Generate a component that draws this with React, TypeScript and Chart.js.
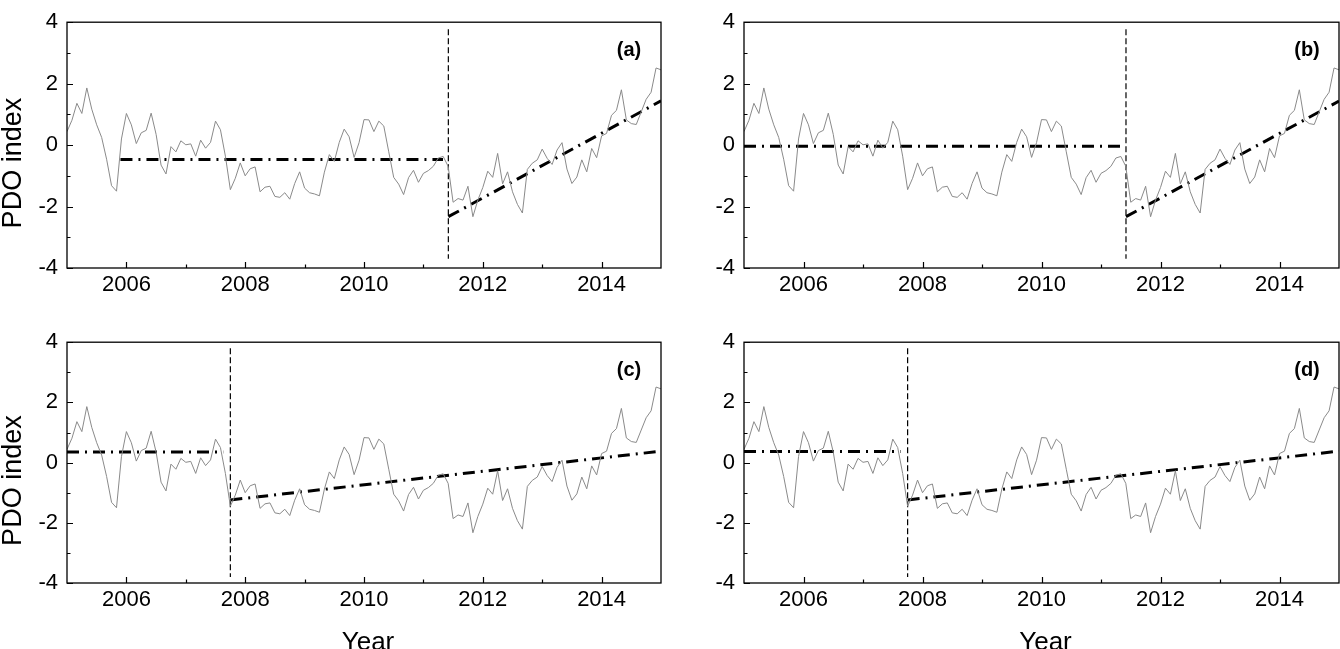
import React, { useEffect, useRef } from "react";
import { Chart, registerables } from "chart.js";

Chart.register(...registerables);

// ---------------- DATA ----------------
const startYear = 2005;
const pdo2005 = [0.44, 0.81, 1.36, 1.03, 1.86, 1.17, 0.66, 0.25, -0.46, -1.32, -1.5, 0.2];
const pdo2006 = [1.03, 0.66, 0.05, 0.4, 0.48, 1.04, 0.35, -0.65, -0.94, -0.05, -0.22, 0.14];
const pdo2007 = [0.01, 0.04, -0.36, 0.16, -0.1, 0.09, 0.78, 0.5, -0.36, -1.45, -1.08, -0.58];
const pdo2008 = [-1.0, -0.77, -0.71, -1.52, -1.37, -1.34, -1.67, -1.7, -1.55, -1.76, -1.25, -0.87];
const pdo2009 = [-1.4, -1.55, -1.59, -1.65, -0.88, -0.31, -0.53, 0.09, 0.52, 0.27, -0.4, 0.08];
const pdo2010 = [0.83, 0.82, 0.44, 0.78, 0.62, -0.22, -1.05, -1.27, -1.61, -1.06, -0.82, -1.21];
const pdo2011 = [-0.92, -0.83, -0.69, -0.42, -0.37, -0.69, -1.86, -1.74, -1.79, -1.34, -2.33, -1.79];
const pdo2012 = [-1.38, -0.85, -1.05, -0.27, -1.26, -0.87, -1.52, -1.93, -2.21, -0.79, -0.59, -0.48];
const pdo2013 = [-0.13, -0.43, -0.63, -0.16, 0.08, -0.78, -1.25, -1.04, -0.48, -0.87, -0.11, -0.41];
const pdo2014 = [0.3, 0.38, 0.97, 1.13, 1.8, 0.82, 0.7, 0.67, 1.08, 1.49, 1.72, 2.51];
const pdo2015 = [2.45];

const xTickLabels = [2006, 2008, 2010, 2012, 2014];
const xMinorTicks = [2007, 2009, 2011, 2013];
const yTickLabels = [-4, -2, 0, 2, 4];
const yMinorTicks = [-3, -1, 1, 3];

// trend segments (x = decimal year, y = PDO index)
const trendA1X = [2005.9, 2011.33];
const trendA1Y = [-0.47, -0.47];
const trendA2X = [2011.42, 2015];
const trendA2Y = [-2.33, 1.44];

const trendB1X = [2005, 2011.34];
const trendB1Y = [-0.04, -0.04];
const trendB2X = [2011.42, 2015];
const trendB2Y = [-2.33, 1.43];

const trendC1X = [2005, 2007.63];
const trendC1Y = [0.35, 0.35];
const trendC2X = [2007.75, 2015];
const trendC2Y = [-1.24, 0.38];

const trendD1X = [2005, 2007.63];
const trendD1Y = [0.37, 0.37];
const trendD2X = [2007.75, 2015];
const trendD2Y = [-1.24, 0.38];

const breakA = 2011.42;
const breakB = 2011.42;
const breakC = 2007.75;
const breakD = 2007.75;
const breakLineYAB = [3.77, -3.7];
const breakLineYCD = [3.8, -3.8];

const panelLetters = ["(a)", "(b)", "(c)", "(d)"];

// ---------------- BUILD ----------------
const pdoIndex = [
  ...pdo2005, ...pdo2006, ...pdo2007, ...pdo2008, ...pdo2009,
  ...pdo2010, ...pdo2011, ...pdo2012, ...pdo2013, ...pdo2014, ...pdo2015,
];
const pdoPoints = pdoIndex.map((v, i) => ({ x: startYear + i / 12, y: v }));
const pts = (xs: number[], ys: number[]) => xs.map((x, i) => ({ x, y: ys[i] }));

const FONT = "'Liberation Sans', Arial, Helvetica, sans-serif";

type PanelCfg = {
  letter: string;
  left: number;
  top: number;
  w: number;
  h: number;
  plotLeft: number;
  plotRight: number;
  plotTop: number;
  plotBottom: number;
  t1: { x: number; y: number }[];
  t2: { x: number; y: number }[];
  brk: { x: number; y: number }[];
  yTitle: boolean;
  xTitle: boolean;
};

const panels: PanelCfg[] = [
  {
    letter: panelLetters[0], left: 0, top: 0, w: 670, h: 320,
    plotLeft: 67, plotRight: 661, plotTop: 10, plotBottom: 268,
    t1: pts(trendA1X, trendA1Y), t2: pts(trendA2X, trendA2Y),
    brk: pts([breakA, breakA], breakLineYAB), yTitle: true, xTitle: false,
  },
  {
    letter: panelLetters[1], left: 670, top: 0, w: 670, h: 320,
    plotLeft: 74, plotRight: 669, plotTop: 10, plotBottom: 268,
    t1: pts(trendB1X, trendB1Y), t2: pts(trendB2X, trendB2Y),
    brk: pts([breakB, breakB], breakLineYAB), yTitle: false, xTitle: false,
  },
  {
    letter: panelLetters[2], left: 0, top: 320, w: 670, h: 329,
    plotLeft: 67, plotRight: 661, plotTop: 6, plotBottom: 263,
    t1: pts(trendC1X, trendC1Y), t2: pts(trendC2X, trendC2Y),
    brk: pts([breakC, breakC], breakLineYCD), yTitle: true, xTitle: true,
  },
  {
    letter: panelLetters[3], left: 670, top: 320, w: 670, h: 329,
    plotLeft: 74, plotRight: 669, plotTop: 6, plotBottom: 263,
    t1: pts(trendD1X, trendD1Y), t2: pts(trendD2X, trendD2Y),
    brk: pts([breakD, breakD], breakLineYCD), yTitle: false, xTitle: true,
  },
];

const decorPlugin = {
  id: "decor",
  afterDraw(chart: any, _args: any, opts: any) {
    const { ctx, chartArea: a, scales } = chart;
    const xs = scales.x;
    const ys = scales.y;
    ctx.save();
    ctx.strokeStyle = "#000";
    ctx.lineWidth = 1.3;
    ctx.strokeRect(a.left, a.top, a.right - a.left, a.bottom - a.top);
    ctx.lineWidth = 1.2;
    ctx.beginPath();
    for (const v of yTickLabels) {
      const py = Math.round(ys.getPixelForValue(v)) + 0.5;
      ctx.moveTo(a.left, py);
      ctx.lineTo(a.left + 6, py);
    }
    for (const v of yMinorTicks) {
      const py = Math.round(ys.getPixelForValue(v)) + 0.5;
      ctx.moveTo(a.left, py);
      ctx.lineTo(a.left + 3.5, py);
    }
    for (const v of xTickLabels) {
      const px = Math.round(xs.getPixelForValue(v)) + 0.5;
      ctx.moveTo(px, a.bottom);
      ctx.lineTo(px, a.bottom - 6);
    }
    for (const v of xMinorTicks) {
      const px = Math.round(xs.getPixelForValue(v)) + 0.5;
      ctx.moveTo(px, a.bottom);
      ctx.lineTo(px, a.bottom - 3.5);
    }
    ctx.stroke();

    ctx.fillStyle = "#000";
    ctx.font = `bold 20px ${FONT}`;
    ctx.textAlign = "center";
    ctx.textBaseline = "alphabetic";
    ctx.fillText(opts.letter, a.right - 32, a.top + 34);

    if (opts.yTitle) {
      ctx.save();
      const cy = (a.top + a.bottom) / 2 + 18;
      ctx.translate(21, cy);
      ctx.rotate(-Math.PI / 2);
      ctx.font = `27px ${FONT}`;
      ctx.textAlign = "center";
      ctx.textBaseline = "alphabetic";
      ctx.fillText("PDO index", 0, 0);
      ctx.restore();
    }
    if (opts.xTitle) {
      ctx.font = `26px ${FONT}`;
      ctx.textAlign = "center";
      ctx.textBaseline = "alphabetic";
      ctx.fillText("Year", (a.left + a.right) / 2 + 4, chart.height + 1);
    }
    ctx.restore();
  },
};

function Panel({ cfg }: { cfg: PanelCfg }) {
  const ref = useRef<HTMLCanvasElement | null>(null);
  useEffect(() => {
    if (!ref.current) return;
    const chart = new Chart(ref.current, {
      type: "line",
      data: {
        datasets: [
          {
            data: pdoPoints,
            borderColor: "#8a8a8a",
            borderWidth: 1,
            pointRadius: 0,
            tension: 0,
          },
          {
            data: cfg.t1,
            borderColor: "#000",
            borderWidth: 3,
            borderDash: [12, 6, 2, 6],
            pointRadius: 0,
          },
          {
            data: cfg.t2,
            borderColor: "#000",
            borderWidth: 3,
            borderDash: [12, 6, 2, 6],
            pointRadius: 0,
          },
          {
            data: cfg.brk,
            borderColor: "#000",
            borderWidth: 1.2,
            borderDash: [6, 3],
            pointRadius: 0,
          },
        ],
      },
      options: {
        responsive: false,
        animation: false,
        devicePixelRatio: 1,
        events: [],
        layout: {
          padding: { left: 0, top: cfg.plotTop, right: cfg.w - cfg.plotRight, bottom: 0 },
        },
        plugins: {
          legend: { display: false },
          tooltip: { enabled: false },
          decor: {
            letter: cfg.letter,
            yTitle: cfg.yTitle,
            xTitle: cfg.xTitle,
          },
        } as any,
        scales: {
          x: {
            type: "linear",
            min: 2005,
            max: 2015,
            afterBuildTicks: (s: any) => {
              s.ticks = xTickLabels.map((v) => ({ value: v }));
            },
            afterFit: (s: any) => {
              s.height = cfg.h - cfg.plotBottom;
            },
            ticks: {
              callback: (v: any) => String(v),
              font: { family: FONT, size: 22 },
              color: "#000",
              padding: 4,
              maxRotation: 0,
              autoSkip: false,
            },
            grid: { display: false, drawTicks: false },
            border: { display: false },
          },
          y: {
            type: "linear",
            min: -4,
            max: 4,
            afterBuildTicks: (s: any) => {
              s.ticks = yTickLabels.map((v) => ({ value: v }));
            },
            afterFit: (s: any) => {
              s.width = cfg.plotLeft;
            },
            ticks: {
              callback: (v: any) => String(v),
              font: { family: FONT, size: 22 },
              color: "#000",
              padding: 9,
              autoSkip: false,
            },
            grid: { display: false, drawTicks: false },
            border: { display: false },
          },
        },
      },
      plugins: [decorPlugin],
    });
    return () => chart.destroy();
  }, [cfg]);
  return (
    <canvas
      ref={ref}
      width={cfg.w}
      height={cfg.h}
      style={{
        position: "absolute",
        left: cfg.left,
        top: cfg.top,
        width: cfg.w,
        height: cfg.h,
      }}
    />
  );
}

export default function App() {
  return (
    <div
      style={{
        position: "absolute",
        left: 0,
        top: 0,
        width: 1340,
        height: 649,
        background: "#fff",
        overflow: "hidden",
      }}
    >
      {panels.map((p) => (
        <Panel key={p.letter} cfg={p} />
      ))}
    </div>
  );
}
